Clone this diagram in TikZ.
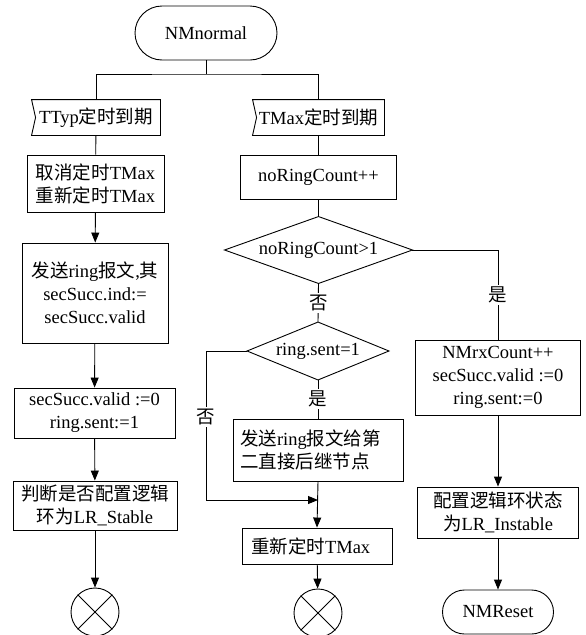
\documentclass[tikz,border=0pt]{standalone}
\usepackage{fontspec}
\setmainfont{Liberation Serif}
\newfontfamily\cjk{Noto Sans CJK SC}
\newcommand\zh[1]{{\cjk #1}}
\usetikzlibrary{arrows.meta}
\begin{document}
\begin{tikzpicture}[x=1pt,y=-1pt,line width=0.9pt,
  plain/.style={rectangle,inner sep=0pt,align=center,font=\fontsize{18.5}{23}\selectfont},
  box/.style={plain,draw},
  term/.style={box,rounded corners=22pt},
  lab/.style={fill=white,inner sep=2pt,font=\fontsize{18.5}{20}\selectfont},
  arr/.style={-{Triangle[length=10pt,width=8pt]}},
  endc/.style={draw,circle,minimum size=48pt,inner sep=0pt}]
\useasboundingbox (0,0) rectangle (586,635);
% nodes
\node[term,rounded corners=27pt,minimum width=142pt,minimum height=54pt] (nmn) at (206,33) {NMnormal};
\node[plain,minimum width=128pt,minimum height=35pt] (ttyp) at (96,117.5) {TTyp\zh{定时到期}};
\node[plain,minimum width=131pt,minimum height=35pt] (tmax) at (318.5,117.5) {TMax\zh{定时到期}};
\node[box,minimum width=137pt,minimum height=57pt] (b1) at (95.5,183.5) {\zh{取消定时}TMax\\\zh{重新定时}TMax};
\node[box,minimum width=156pt,minimum height=44pt] (nrc) at (318.5,177) {noRingCount++};
\node[box,minimum width=146pt,minimum height=100pt] (b2) at (95,293) {\zh{发送}ring\zh{报文},\zh{其}\\secSucc.ind:=\\secSucc.valid};
\node[plain,minimum width=187pt,minimum height=66pt] (d1) at (318.5,250) {noRingCount>1};
\node[box,minimum width=161pt,minimum height=50pt] (b3) at (94.5,413) {secSucc.valid :=0\\ring.sent:=1};
\node[plain,minimum width=141pt,minimum height=57pt] (d2) at (318,351) {ring.sent=1};
\node[box,align=left,text width=156pt,inner xsep=7pt,minimum height=62pt] (b4) at (318,450) {\zh{发送}ring\zh{报文给第}\\\zh{二直接后继节点}};
\node[box,minimum width=164pt,minimum height=49pt] (b5) at (95,505.5) {\zh{判断是否配置逻辑}\\\zh{环为}LR\_Stable};
\node[box,align=left,text width=132pt,inner xsep=9pt,minimum height=36pt] (b6) at (317,546) {\zh{重新定时}TMax};
\node[endc] (c1) at (95,612) {};
\node[endc] (c2) at (318,613) {};
\node[box,minimum width=165pt,minimum height=75pt] (b7) at (498,377.5) {NMrxCount++\\secSucc.valid :=0\\ring.sent:=0};
\node[box,minimum width=161pt,minimum height=51pt] (b8) at (498,512.5) {\zh{配置逻辑环状态}\\\zh{为}LR\_Instable};
\node[term,minimum width=111pt,minimum height=44pt] (nmr) at (498,612) {NMReset};
% shapes drawn by outline
\draw (ttyp.north west) -- (ttyp.north east) -- (ttyp.south east) -- (ttyp.south west) -- ([xshift=4pt]ttyp.west) -- cycle;
\draw (tmax.north west) -- (tmax.north east) -- (tmax.south east) -- (tmax.south west) -- ([xshift=4pt]tmax.west) -- cycle;
\draw (d1.north) -- (d1.east) -- (d1.south) -- (d1.west) -- cycle;
\draw (d2.north) -- (d2.east) -- (d2.south) -- (d2.west) -- cycle;
\foreach \c in {c1,c2}{\draw (\c.north west) -- (\c.south east) (\c.north east) -- (\c.south west);}
% connectors
\coordinate (split) at (206,74);
\coordinate (lb) at (206,500);
\coordinate (mj) at (318,500);
\draw (nmn.south) -- (split);
\draw (ttyp.north) |- (split) -| (tmax.north);
\draw (ttyp) -- (b1);
\draw[arr] (b1) -- (b2);
\draw[arr] (b2) -- (b3);
\draw[arr] (b3) -- (b5);
\draw[arr] (b5) -- (c1);
\draw (tmax) -- (nrc);
\draw (nrc) -- (d1.north);
\draw (d1.south) -- node[lab]{\zh{否}} (d2.north);
\draw (d2.south) -- node[lab]{\zh{是}} (b4.north);
\draw (d1.east) -| node[lab,pos=0.75]{\zh{是}} (b7.north);
\draw (d2.west) -| node[lab,pos=0.72]{\zh{否}} (lb);
\draw[arr] (lb) -- (mj);
\draw[arr] (b4.south) -- (b6.north);
\draw[arr] (b6) -- (c2);
\draw[arr] (b7) -- (b8);
\draw[arr] (b8) -- (nmr);
\end{tikzpicture}
\end{document}
